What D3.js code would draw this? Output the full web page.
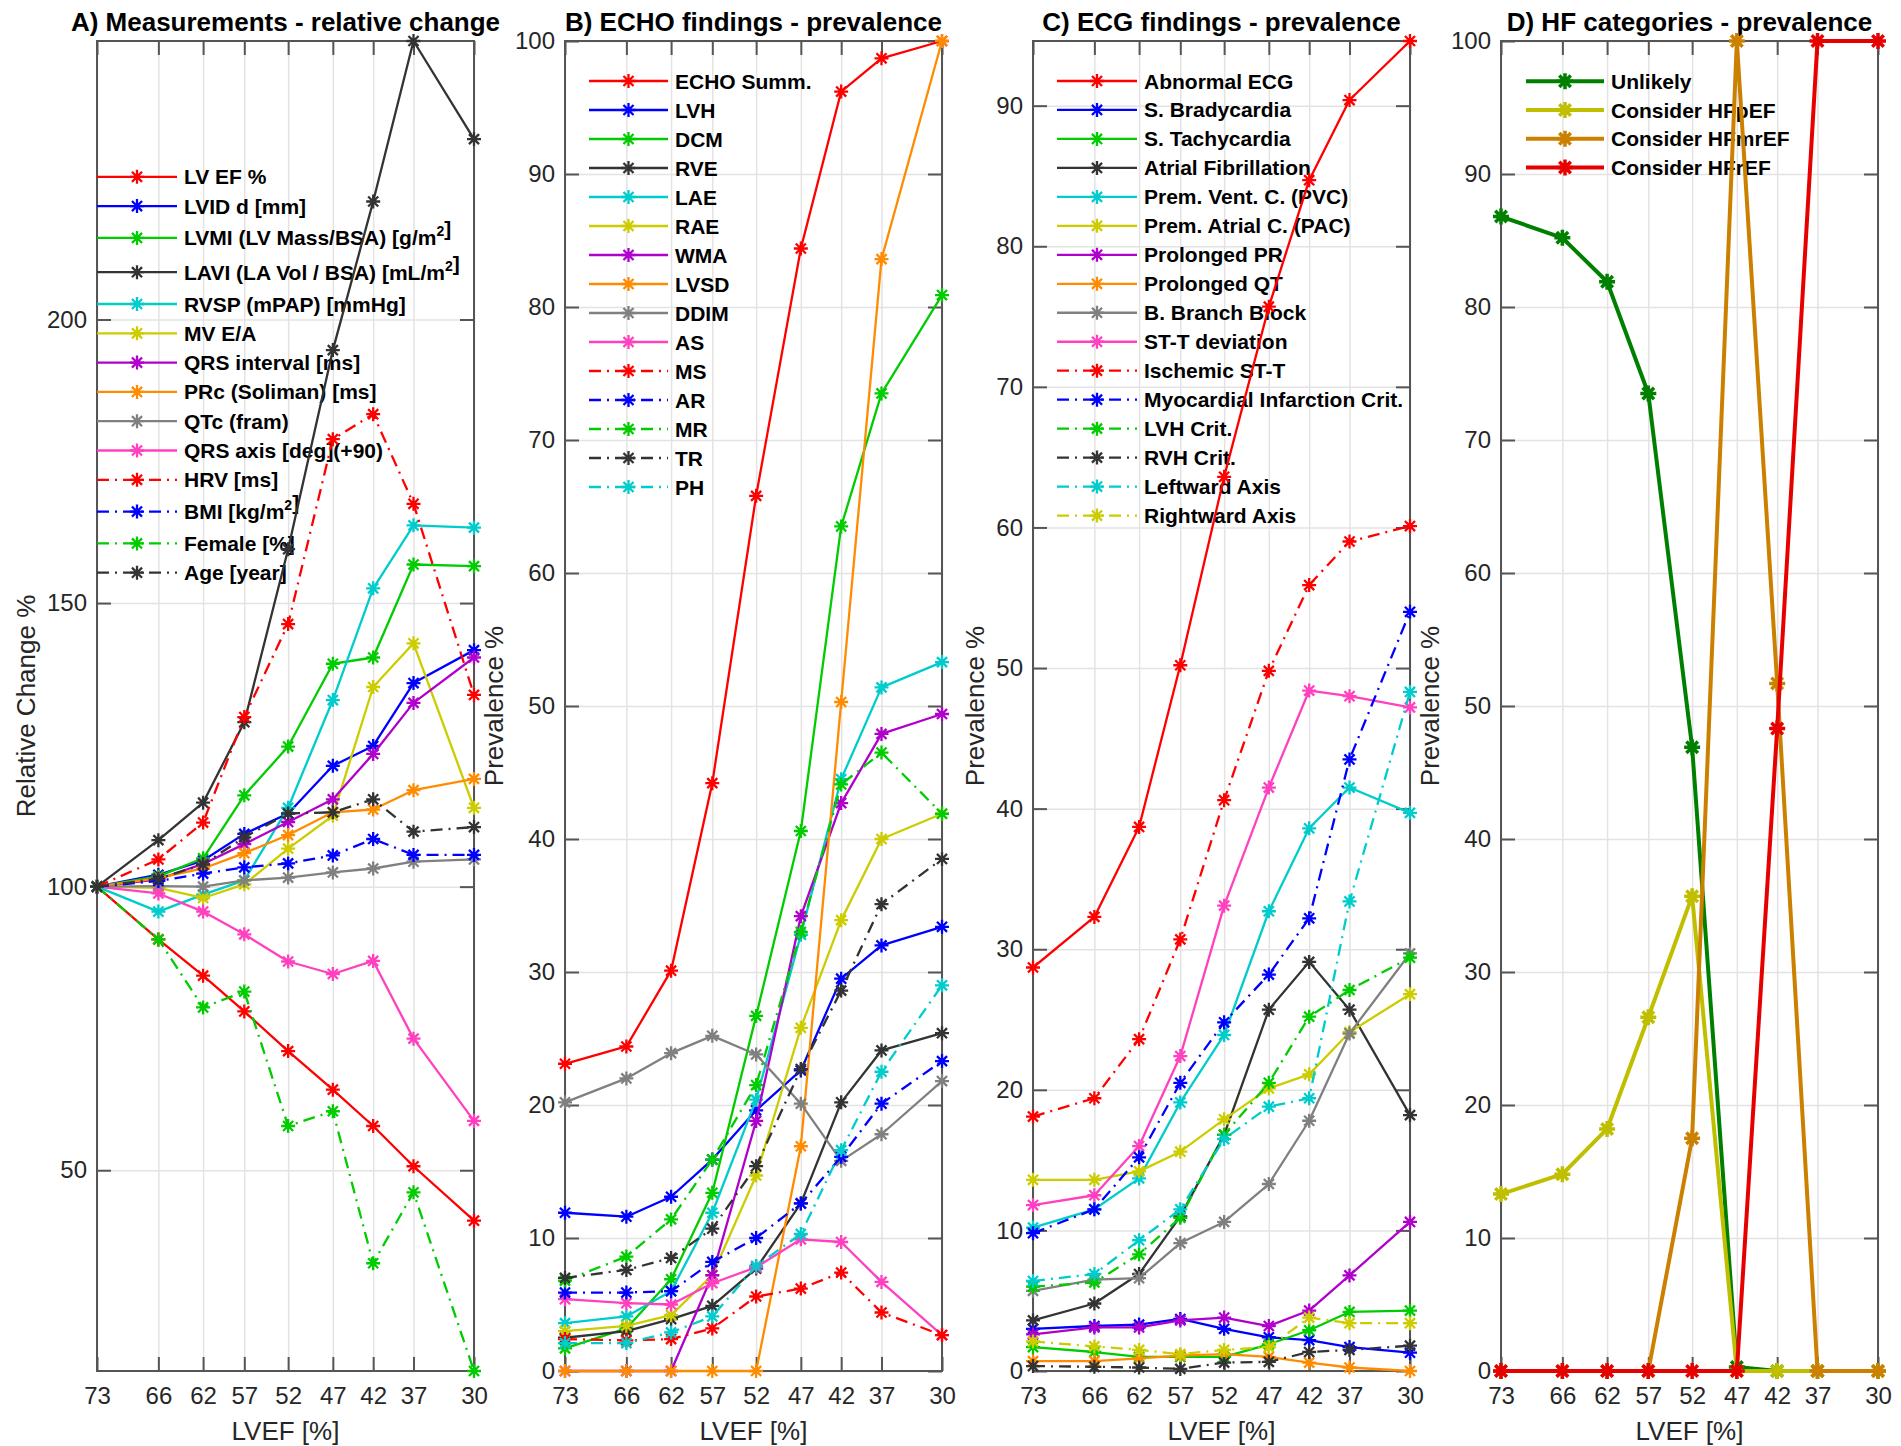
<!DOCTYPE html>
<html>
<head>
<meta charset="utf-8">
<script src="https://cdn.jsdelivr.net/npm/d3@7"></script>
<style>
  body { margin: 0; background: #fff; }
  text { font-family: "Liberation Sans", Arial, Helvetica, sans-serif; }
</style>
</head>
<body>
<div id="chart"></div>
<script>
// x positions (mean LVEF per bin) and the rounded labels shown under them
const lvefMean = [73, 66.0, 60.9, 56.2, 51.2, 46.1, 41.5, 36.9, 30];
const lvefLabels = ["73", "66", "62", "57", "52", "47", "42", "37", "30"];

// A) measurements, relative change
const measureNames = ["LV EF %", "LVID d [mm]", "LVMI (LV Mass/BSA) [g/m^2]", "LAVI (LA Vol / BSA) [mL/m^2]",
  "RVSP (mPAP) [mmHg]", "MV E/A", "QRS interval [ms]", "PRc (Soliman) [ms]", "QTc (fram)",
  "QRS axis [deg](+90)", "HRV [ms]", "BMI [kg/m^2]", "Female [%]", "Age [year]"];
const measureValues = [
  [100, 90.7, 84.3, 78.0, 71.0, 64.2, 57.8, 50.7, 41.1],
  [100, 102.1, 104.6, 109.3, 112.9, 121.3, 124.8, 135.9, 141.7],
  [100, 101.8, 105.0, 116.1, 124.7, 139.3, 140.4, 156.8, 156.5],
  [100, 108.2, 114.8, 129.0, 159.5, 194.6, 220.8, 249.1, 231.8],
  [100, 95.6, 98.6, 101.1, 113.9, 132.9, 152.6, 163.7, 163.3],
  [100, 99.8, 98.0, 100.4, 106.7, 112.5, 135.2, 142.9, 113.9],
  [100, 101.3, 104.0, 107.5, 111.4, 115.4, 123.4, 132.4, 140.4],
  [100, 101.5, 103.2, 105.9, 109.1, 113.1, 113.6, 117.0, 119.0],
  [100, 100.1, 100.0, 101.1, 101.6, 102.5, 103.2, 104.4, 104.8],
  [100, 98.8, 95.6, 91.6, 86.8, 84.6, 86.9, 73.2, 58.7],
  [100, 104.8, 111.3, 129.9, 146.3, 178.9, 183.3, 167.5, 133.8],
  [100, 101.0, 102.3, 103.4, 104.1, 105.5, 108.4, 105.6, 105.6],
  [100, 90.7, 78.7, 81.5, 57.8, 60.4, 33.6, 46.1, 14.6],
  [100, 101.4, 103.9, 108.7, 112.9, 113.1, 115.4, 109.7, 110.5]
];
const measureTicks = [50, 100, 150, 200];

// B) echo findings, prevalence
const echoNames = ["ECHO Summ.", "LVH", "DCM", "RVE", "LAE", "RAE", "WMA", "LVSD", "DDIM", "AS",
  "MS", "AR", "MR", "TR", "PH"];
const echoValues = [
  [23.1, 24.4, 30.1, 44.2, 65.8, 84.4, 96.2, 98.7, 100],
  [11.9, 11.6, 13.1, 15.9, 19.6, 22.6, 29.5, 32.0, 33.4],
  [1.7, 3.2, 6.9, 13.4, 26.7, 40.6, 63.5, 73.5, 80.9],
  [2.5, 3.0, 3.9, 4.9, 7.7, 12.6, 20.2, 24.1, 25.4],
  [3.6, 4.1, 6.0, 11.9, 20.4, 32.8, 44.5, 51.4, 53.3],
  [3.0, 3.4, 4.2, 7.2, 14.7, 25.8, 33.9, 40.0, 41.9],
  [0, 0, 0, 7.2, 18.8, 34.2, 42.7, 47.9, 49.4],
  [0, 0, 0, 0, 0, 16.9, 50.3, 83.6, 100],
  [20.2, 22.0, 23.9, 25.2, 23.8, 20.1, 15.8, 17.8, 21.8],
  [5.4, 5.1, 5.0, 6.6, 7.8, 9.9, 9.7, 6.7, 2.7],
  [2.4, 2.3, 2.4, 3.2, 5.6, 6.2, 7.4, 4.4, 2.7],
  [5.9, 5.9, 6.0, 8.2, 10.0, 12.6, 16.1, 20.1, 23.3],
  [6.8, 8.6, 11.4, 15.9, 21.5, 33.0, 44.1, 46.5, 41.9],
  [7.0, 7.6, 8.5, 10.7, 15.4, 22.7, 28.6, 35.1, 38.5],
  [2.1, 2.1, 2.9, 4.1, 7.9, 10.3, 16.6, 22.5, 29.0]
];
const echoTicks = [0, 10, 20, 30, 40, 50, 60, 70, 80, 90, 100];

// C) ECG findings, prevalence
const ecgNames = ["Abnormal ECG", "S. Bradycardia", "S. Tachycardia", "Atrial Fibrillation",
  "Prem. Vent. C. (PVC)", "Prem. Atrial C. (PAC)", "Prolonged PR", "Prolonged QT", "B. Branch Block",
  "ST-T deviation", "Ischemic ST-T", "Myocardial Infarction Crit.", "LVH Crit.", "RVH Crit.",
  "Leftward Axis", "Rightward Axis"];
const ecgValues = [
  [28.7, 32.3, 38.7, 50.2, 63.6, 75.7, 84.7, 90.4, 94.6],
  [3.0, 3.2, 3.3, 3.7, 3.0, 2.4, 2.2, 1.7, 1.3],
  [1.7, 1.35, 1.0, 1.0, 1.0, 1.9, 2.9, 4.2, 4.3],
  [3.6, 4.8, 6.9, 11.0, 16.8, 25.7, 29.1, 25.7, 18.2],
  [10.2, 11.5, 13.7, 19.1, 23.9, 32.7, 38.6, 41.5, 39.7],
  [13.6, 13.6, 14.2, 15.6, 17.9, 20.1, 21.1, 24.1, 26.8],
  [2.6, 3.1, 3.1, 3.6, 3.8, 3.2, 4.3, 6.8, 10.6],
  [0.7, 0.7, 0.9, 1.1, 1.2, 1.0, 0.6, 0.25, 0],
  [5.7, 6.5, 6.6, 9.1, 10.6, 13.3, 17.8, 24.0, 29.7],
  [11.8, 12.5, 16.0, 22.4, 33.1, 41.5, 48.4, 48.0, 47.2],
  [18.1, 19.4, 23.6, 30.7, 40.6, 49.8, 55.9, 59.0, 60.1],
  [9.8, 11.5, 15.2, 20.5, 24.8, 28.2, 32.2, 43.5, 54.0],
  [6.0, 6.3, 8.3, 10.9, 16.8, 20.5, 25.2, 27.1, 29.4],
  [0.35, 0.3, 0.25, 0.15, 0.6, 0.65, 1.35, 1.5, 1.8],
  [6.4, 6.9, 9.3, 11.5, 16.5, 18.8, 19.4, 33.4, 48.3],
  [2.1, 1.75, 1.5, 1.2, 1.5, 1.7, 3.8, 3.4, 3.4]
];
const ecgTicks = [0, 10, 20, 30, 40, 50, 60, 70, 80, 90];

// D) HF categories, prevalence
const hfNames = ["Unlikely", "Consider HFpEF", "Consider HFmrEF", "Consider HFrEF"];
const hfValues = [
  [86.8, 85.2, 81.9, 73.5, 46.9, 0.3, 0, 0, 0],
  [13.3, 14.8, 18.2, 26.6, 35.7, 0, 0, 0, 0],
  [0, 0, 0, 0, 17.5, 100, 51.7, 0, 0],
  [0, 0, 0, 0, 0, 0, 48.3, 100, 100]
];
const hfTicks = [0, 10, 20, 30, 40, 50, 60, 70, 80, 90, 100];

// ---- layout and styles ----
const W = 1901, H = 1446;
const plotTop = 41, plotBottom = 1371, plotW = 377;
const solidColors = ["#ff0000", "#0000ff", "#00cc00", "#333333", "#00cccc", "#cccc00", "#b000cc", "#ff8c00", "#808080", "#ff40bf"];
const dashColors = ["#ff0000", "#0000ff", "#00cc00", "#333333", "#00cccc", "#cccc00"];
const hfColors = ["#008000", "#bfbf00", "#cc8000", "#e60000"];
const dashDot = "12,6,2,6";

const svg = d3.select("#chart").append("svg").attr("width", W).attr("height", H);

function asterisk(r) {
  const d = r * 0.72;
  return `M${-r},0H${r}M0,${-r}V${r}M${-d},${-d}L${d},${d}M${-d},${d}L${d},${-d}`;
}

function cycleStyle(i) {
  return i < 10 ? { color: solidColors[i], dash: null } : { color: dashColors[i - 10], dash: dashDot };
}

function addLabel(sel, name) {
  // "^2" in a name becomes a superscript 2
  const parts = name.split("^2");
  parts.forEach((p, k) => {
    sel.append("tspan").text(p);
    if (k < parts.length - 1) {
      sel.append("tspan").attr("dy", -9).attr("font-size", 14).text("2");
      sel.append("tspan").attr("dy", 9).text("");
    }
  });
}

function drawPanel(p) {
  const x = d3.scaleLinear().domain([73, 30]).range([p.left, p.left + plotW]);
  const y = d3.scaleLinear().domain(d3.extent(p.values.flat())).range([plotBottom, plotTop]);
  const g = svg.append("g");

  // grid
  const gridX = g.append("g").attr("transform", `translate(0,${plotBottom})`)
    .call(d3.axisBottom(x).tickValues(lvefMean).tickSize(-(plotBottom - plotTop)).tickFormat(""));
  const gridY = g.append("g").attr("transform", `translate(${p.left},0)`)
    .call(d3.axisLeft(y).tickValues(p.ticks).tickSize(-plotW).tickFormat(""));
  [gridX, gridY].forEach(a => {
    a.select(".domain").remove();
    a.selectAll("line").attr("stroke", "#e3e3e3").attr("stroke-width", 1.5);
  });

  // axes, inward ticks on all four sides
  const axB = g.append("g").attr("transform", `translate(0,${plotBottom})`)
    .call(d3.axisBottom(x).tickValues(lvefMean).tickSize(-14).tickPadding(16)
      .tickFormat((d, i) => lvefLabels[i]));
  const axT = g.append("g").attr("transform", `translate(0,${plotTop})`)
    .call(d3.axisTop(x).tickValues(lvefMean).tickSize(-14).tickFormat(""));
  const axL = g.append("g").attr("transform", `translate(${p.left},0)`)
    .call(d3.axisLeft(y).tickValues(p.ticks).tickSize(-14).tickPadding(10));
  const axR = g.append("g").attr("transform", `translate(${p.left + plotW},0)`)
    .call(d3.axisRight(y).tickValues(p.ticks).tickSize(-14).tickFormat(""));
  [axB, axT, axL, axR].forEach(a => {
    a.select(".domain").remove();
    a.selectAll("line").attr("stroke", "#555").attr("stroke-width", 2);
    a.selectAll("text").attr("font-size", 24).attr("fill", "#262626")
      .attr("font-family", "Liberation Sans, Arial, sans-serif");
  });
  g.append("rect").attr("x", p.left).attr("y", plotTop).attr("width", plotW)
    .attr("height", plotBottom - plotTop).attr("fill", "none").attr("stroke", "#555").attr("stroke-width", 2);

  // title and axis labels
  g.append("text").attr("x", p.left + plotW / 2).attr("y", 31).attr("text-anchor", "middle")
    .attr("font-size", 26).attr("font-weight", "bold").attr("fill", "#000").text(p.title);
  g.append("text").attr("x", p.left + plotW / 2).attr("y", 1440).attr("text-anchor", "middle")
    .attr("font-size", 26).attr("fill", "#262626").text("LVEF [%]");
  g.append("text").attr("transform", `translate(${p.left - p.yLabelGap},${(plotTop + plotBottom) / 2}) rotate(-90)`)
    .attr("text-anchor", "middle").attr("font-size", 26).attr("fill", "#262626").text(p.yLabel);

  // legend (no box)
  let ly = p.legendY;
  p.names.forEach((name, i) => {
    const st = p.style(i);
    const sup = name.includes("^2");
    if (sup) ly += 2.5;
    const row = g.append("g").attr("transform", `translate(0,${ly})`);
    row.append("line").attr("x1", p.legendX[0]).attr("x2", p.legendX[1])
      .attr("stroke", st.color).attr("stroke-width", p.lineW).attr("stroke-dasharray", st.dash);
    row.append("path").attr("d", asterisk(p.markR)).attr("transform", `translate(${(p.legendX[0] + p.legendX[1]) / 2},0)`)
      .attr("fill", "none").attr("stroke", st.color).attr("stroke-width", p.markW);
    const t = row.append("text").attr("x", p.legendX[1] + 7).attr("y", 7.5)
      .attr("font-size", 21).attr("font-weight", "bold").attr("fill", "#000");
    addLabel(t, name);
    ly += p.legendStep + (sup ? 2.5 : 0);
  });

  // series
  const line = d3.line().x((d, i) => x(lvefMean[i])).y(d => y(d));
  p.values.forEach((vals, i) => {
    const st = p.style(i);
    const s = g.append("g");
    s.append("path").datum(vals).attr("d", line).attr("fill", "none")
      .attr("stroke", st.color).attr("stroke-width", p.lineW).attr("stroke-dasharray", st.dash)
      .attr("stroke-linejoin", "round");
    s.selectAll("path.mk").data(vals).join("path").attr("class", "mk")
      .attr("d", asterisk(p.markR))
      .attr("transform", (d, k) => `translate(${x(lvefMean[k])},${y(d)})`)
      .attr("fill", "none").attr("stroke", st.color).attr("stroke-width", p.markW);
  });
}

drawPanel({
  left: 97, title: "A) Measurements - relative change", yLabel: "Relative Change %", yLabelGap: 62,
  names: measureNames, values: measureValues, ticks: measureTicks, style: cycleStyle,
  legendX: [97, 177], legendY: 176.8, legendStep: 29.3, lineW: 2.3, markR: 7, markW: 2.3
});
drawPanel({
  left: 565, title: "B) ECHO findings - prevalence", yLabel: "Prevalence %", yLabelGap: 62,
  names: echoNames, values: echoValues, ticks: echoTicks, style: cycleStyle,
  legendX: [589, 668], legendY: 81, legendStep: 29.0, lineW: 2.3, markR: 7, markW: 2.3
});
drawPanel({
  left: 1033, title: "C) ECG findings - prevalence", yLabel: "Prevalence %", yLabelGap: 49,
  names: ecgNames, values: ecgValues, ticks: ecgTicks, style: cycleStyle,
  legendX: [1057, 1137], legendY: 81, legendStep: 28.97, lineW: 2.3, markR: 7, markW: 2.3
});
drawPanel({
  left: 1501, title: "D) HF categories - prevalence", yLabel: "Prevalence %", yLabelGap: 62,
  names: hfNames, values: hfValues, ticks: hfTicks, style: i => ({ color: hfColors[i], dash: null }),
  legendX: [1526, 1604], legendY: 81.3, legendStep: 28.7, lineW: 4, markR: 8, markW: 3.5
});
</script>
</body>
</html>
